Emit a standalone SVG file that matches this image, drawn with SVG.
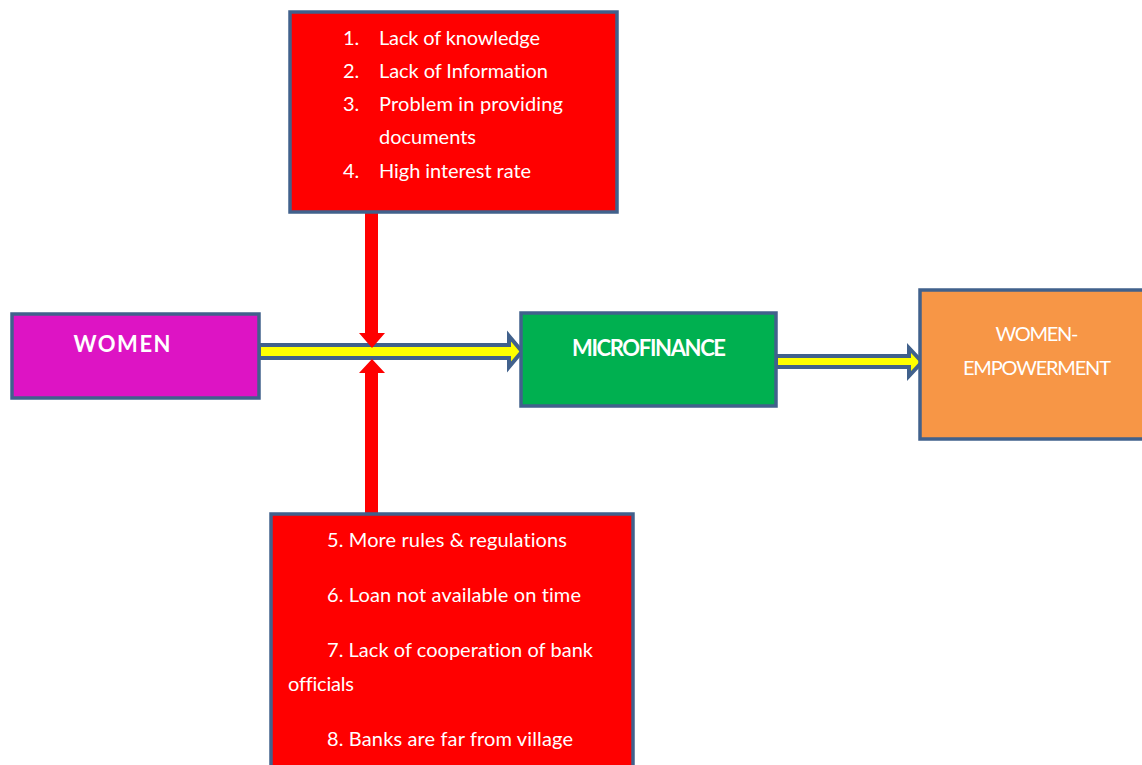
<svg xmlns="http://www.w3.org/2000/svg" width="1142" height="765" viewBox="0 0 1142 765">
<style>
.box{stroke:#41618C;stroke-width:3.5}
.t{font-family:Lato,"Open Sans","Liberation Sans",sans-serif;fill:#fff;font-size:20px;font-variant-ligatures:none}
.b{font-weight:bold;font-size:22px}
.conn-y{fill:#FFFF00;stroke:#41618C;stroke-width:4;stroke-linejoin:miter}
.conn-r{fill:#FF0000}
</style>
<rect width="1142" height="765" fill="#fff"/>
<g id="connectors">
<path class="conn-y" d="M259,345 H509 V336 L522,351.5 L509,367 V358 H259 Z"/>
<path class="conn-y" d="M776,356 H909 V348 L922,362 L909,376 V367 H776 Z"/>
<path class="conn-r" d="M365,212 H378 V333 H385 L372,348 L359,333 H365 Z"/>
<path class="conn-r" d="M365,514 H378 V373 H385 L372,359 L359,373 H365 Z"/>
</g>
<g id="women">
<rect class="box" x="12" y="314" width="247" height="84" fill="#DD14C4"/>
<text class="t b" x="122" y="352" text-anchor="middle" textLength="97">WOMEN</text>
</g>
<g id="microfinance">
<rect class="box" x="521" y="313" width="255" height="93" fill="#00B050"/>
<text class="t b" x="649" y="356" text-anchor="middle" textLength="154">MICROFINANCE</text>
</g>
<g id="empowerment">
<rect class="box" x="920" y="290" width="230" height="149" fill="#F79646"/>
<text class="t" x="1037" y="341" text-anchor="middle" textLength="83">WOMEN-</text>
<text class="t" x="1037" y="375" text-anchor="middle" textLength="148">EMPOWERMENT</text>
</g>
<g id="problems-top">
<rect class="box" x="290" y="12" width="327" height="200" fill="#FF0000"/>
<text class="t" x="343" y="45">1.</text><text class="t" x="379" y="45" textLength="161">Lack of knowledge</text>
<text class="t" x="343" y="78">2.</text><text class="t" x="379" y="78" textLength="169">Lack of Information</text>
<text class="t" x="343" y="111">3.</text><text class="t" x="379" y="111" textLength="184">Problem in providing</text>
<text class="t" x="379" y="144" textLength="97">documents</text>
<text class="t" x="343" y="178">4.</text><text class="t" x="379" y="178" textLength="152">High interest rate</text>
</g>
<g id="problems-bottom">
<rect class="box" x="271" y="514" width="362" height="270" fill="#FF0000"/>
<text class="t" x="327" y="547" textLength="240">5. More rules &amp; regulations</text>
<text class="t" x="327" y="602" textLength="254">6. Loan not available on time</text>
<text class="t" x="327" y="657" textLength="266">7. Lack of cooperation of bank</text>
<text class="t" x="288" y="691" textLength="66">officials</text>
<text class="t" x="327" y="746" textLength="246">8. Banks are far from village</text>
</g>
</svg>
